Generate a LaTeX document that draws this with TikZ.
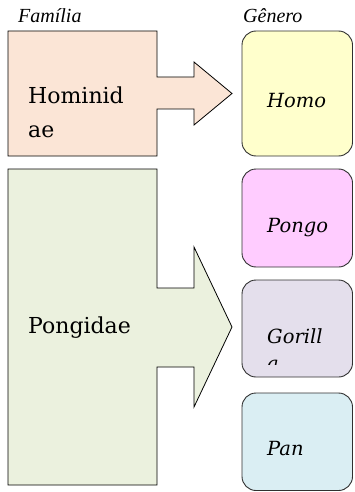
\documentclass[tikz,border=0pt]{standalone}
\usepackage{fontspec}
\setmainfont{DejaVu Serif}
\newfontfamily\capfont{Liberation Serif}
\definecolor{peach}{HTML}{FBE5D6}
\definecolor{lyellow}{HTML}{FFFFCC}
\definecolor{lgreen}{HTML}{EBF1DE}
\definecolor{lpink}{HTML}{FFCCFF}
\definecolor{lavend}{HTML}{E4DFEC}
\definecolor{lblue}{HTML}{DAEEF3}
\definecolor{edge}{HTML}{303030}
\begin{document}
\begin{tikzpicture}[x=1pt,y=-1pt,
  famshape/.style={draw=black,line width=0.8pt,line join=miter},
  genbox/.style={draw=edge,line width=0.9pt,rounded corners=14pt},
  famlabel/.style={anchor=base west,inner sep=0pt,font=\fontsize{22}{26}\selectfont},
  genlabel/.style={anchor=base west,inner sep=0pt,font=\fontsize{19.5}{24}\selectfont\itshape},
  headlabel/.style={anchor=base west,inner sep=0pt,font=\capfont\fontsize{20}{24}\selectfont\itshape}]
\useasboundingbox (0,0) rectangle (354,492);
% headings
\node[headlabel] (hfam) at (18,23) {Família};
\node[headlabel] (hgen) at (243,23) {Gênero};
% Hominidae
\draw[famshape,fill=peach] (8,31) -- (157,31) -- (157,77) -- (194,77) -- (194,62) -- (232,93.5) -- (194,125) -- (194,109) -- (157,109) -- (157,156) -- (8,156) -- cycle;
\node[famlabel] (hom1) at (28,103) {Hominid};
\node[famlabel] (hom2) at (28,137) {ae};
% Pongidae
\draw[famshape,fill=lgreen] (8,169) -- (157,169) -- (157,288) -- (194,288) -- (194,247) -- (232,327) -- (194,407) -- (194,367) -- (157,367) -- (157,485) -- (8,485) -- cycle;
\node[famlabel] (pong) at (28,333) {Pongidae};
% genus boxes
\draw[genbox,fill=lyellow] (242,31) rectangle (352.5,156);
\node[genlabel] (homo) at (267,107) {Homo};
\draw[genbox,fill=lpink] (242,169) rectangle (352.5,267);
\node[genlabel] (pongo) at (267,232) {Pongo};
\draw[genbox,fill=lavend] (242,280) rectangle (352.5,377);
\begin{scope}
\clip (242,280) rectangle (353,364);
\node[genlabel] (gor1) at (267,343) {Gorill};
\node[genlabel] (gor2) at (267,370) {a};
\end{scope}
\draw[genbox,fill=lblue] (242,393) rectangle (352.5,490.5);
\node[genlabel] (pan) at (267,455) {Pan};
\end{tikzpicture}
\end{document}
